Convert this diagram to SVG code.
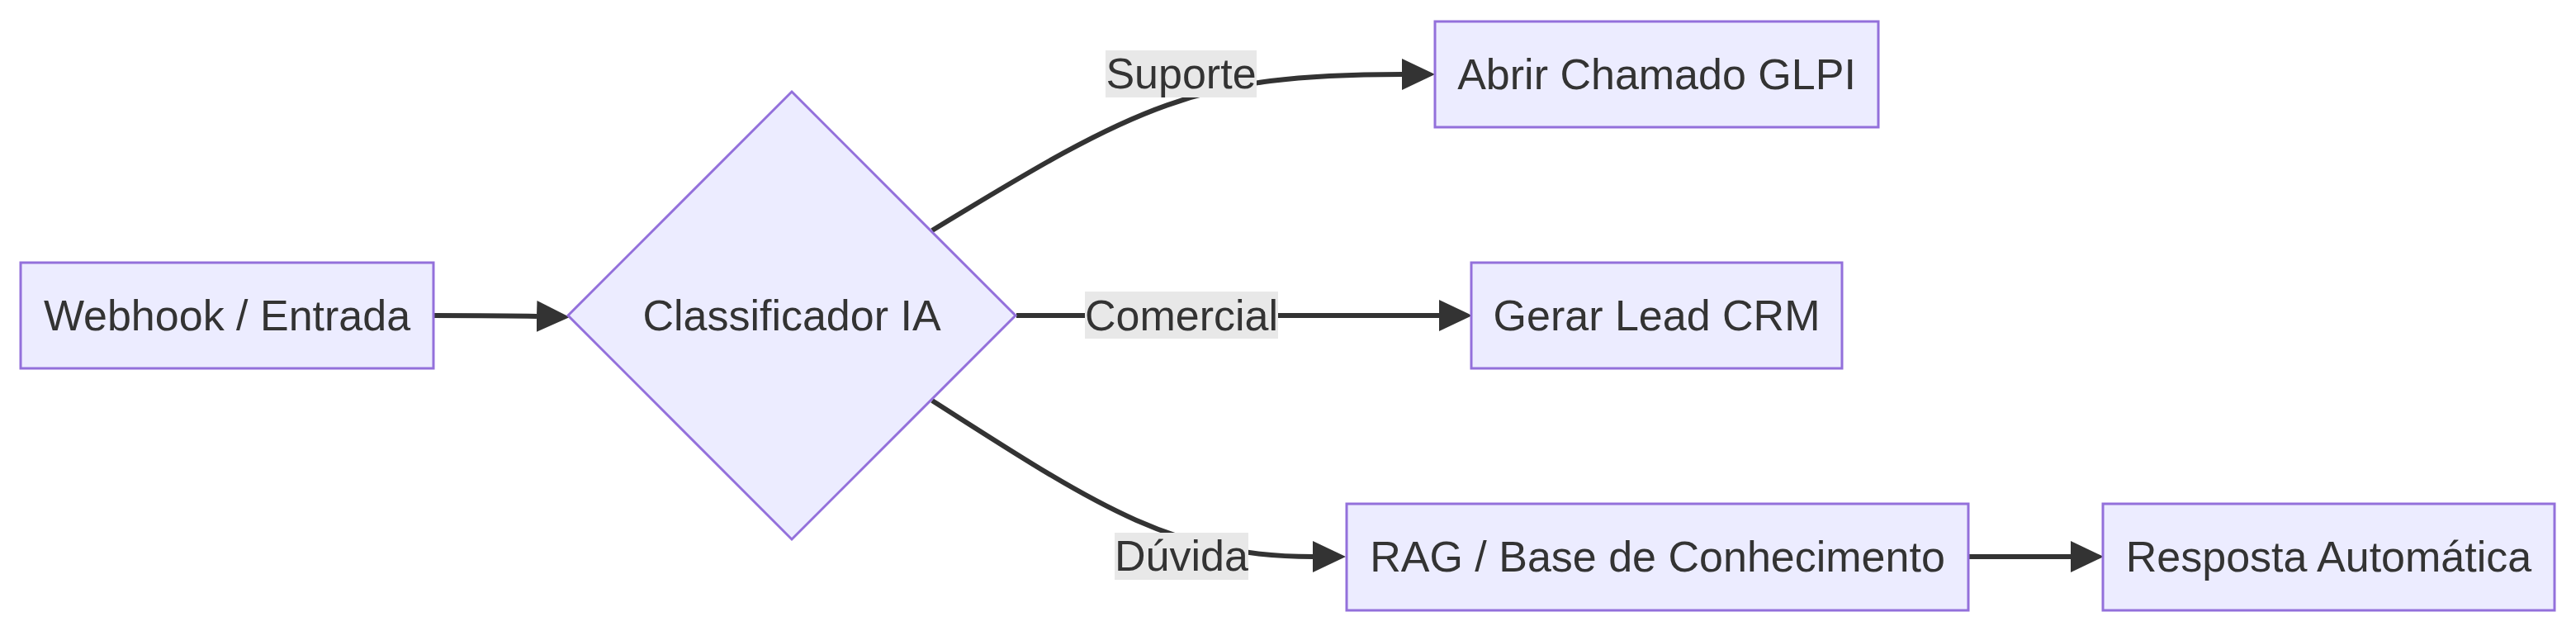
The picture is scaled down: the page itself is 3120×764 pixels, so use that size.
<svg xmlns="http://www.w3.org/2000/svg" width="3120" height="764" viewBox="0 0 3120 764">
<style>
.node rect, .node polygon { fill: #ECECFF; stroke: #9370DB; stroke-width: 3; }
.node text, .elabel text { font-family: "Liberation Sans", Arial, sans-serif; font-size: 52px; fill: #333333; text-anchor: middle; }
.edge { fill: none; stroke: #333333; stroke-width: 6; }
.elabel rect { fill: #e8e8e8; }
</style>
<defs>
<marker id="arrow" viewBox="0 0 10 10" refX="0" refY="5" markerUnits="userSpaceOnUse" markerWidth="40" markerHeight="38" orient="auto" preserveAspectRatio="none">
<path d="M0,0 L10,5 L0,10 z" fill="#333333"/>
</marker>
</defs>
<rect width="3120" height="764" fill="#ffffff"/>
<g id="connectors">
<path class="edge" d="M525,382 C570,382 610,382 650,383" marker-end="url(#arrow)"/>
<path class="edge" d="M1129,279 C1379,126.5 1448,90 1698,90" marker-end="url(#arrow)"/>
<path class="edge" d="M1231,382 L1743,382" marker-end="url(#arrow)"/>
<path class="edge" d="M1129,485 C1329,613 1420,674 1590,674" marker-end="url(#arrow)"/>
<path class="edge" d="M2384,674 L2508,674" marker-end="url(#arrow)"/>
</g>
<g id="edge-labels">
<g class="elabel" id="label-suporte"><rect x="1339" y="61" width="183" height="57"/><text x="1430.5" y="107">Suporte</text></g>
<g class="elabel" id="label-comercial"><rect x="1314" y="353" width="234" height="57"/><text x="1431" y="400">Comercial</text></g>
<g class="elabel" id="label-duvida"><rect x="1350" y="645" width="162" height="57"/><text x="1431" y="691">Dúvida</text></g>
</g>
<g class="node" id="webhook"><rect x="25" y="318" width="500" height="128"/><text x="275" y="400">Webhook / Entrada</text></g>
<g class="node" id="classificador"><polygon points="959,111 1230,382 959,653 688,382"/><text x="959" y="400">Classificador IA</text></g>
<g class="node" id="glpi"><rect x="1738" y="26" width="537" height="128"/><text x="2006.5" y="108">Abrir Chamado GLPI</text></g>
<g class="node" id="crm"><rect x="1782" y="318" width="449" height="128"/><text x="2006.5" y="400">Gerar Lead CRM</text></g>
<g class="node" id="rag"><rect x="1631" y="610" width="753" height="129"/><text x="2007.5" y="692">RAG / Base de Conhecimento</text></g>
<g class="node" id="resposta"><rect x="2547" y="610" width="547" height="129"/><text x="2820.5" y="692">Resposta Automática</text></g>
</svg>
